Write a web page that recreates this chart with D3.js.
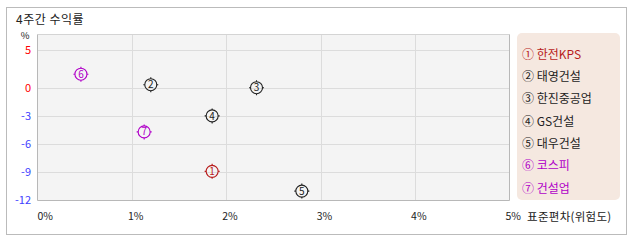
<!DOCTYPE html>
<html>
<head>
<meta charset="utf-8">
<script src="https://cdn.jsdelivr.net/npm/d3@7"></script>
<style>
  body { margin: 0; background: #fff; }
  svg text { font-family: "Noto Sans CJK KR", "Noto Sans", sans-serif; }
</style>
</head>
<body>
<div id="chart"></div>
<script>
// 4주간 수익률 vs 표준편차
var names = ["한전KPS", "태영건설", "한진중공업", "GS건설", "대우건설", "코스피", "건설업"];
var marks = ["①", "②", "③", "④", "⑤", "⑥", "⑦"];
var risk = [1.85, 1.2, 2.32, 1.85, 2.8, 0.46, 1.13];
var returns = [-8.9, 0.4, 0.0, -3.0, -11.0, 1.8, -4.7];
var groups = ["stock", "stock", "stock", "stock", "stock", "index", "index"];
var xTicks = [0, 1, 2, 3, 4, 5];
var yTicks = [5, 0, -3, -6, -9, -12];

var width = 638, height = 242;
var plot = { left: 37.5, right: 509.5, top: 34.5, bottom: 200.5 };

var colorOf = function (d, i) {
  if (i === 0) return "#b81c1c";
  return groups[i] === "index" ? "#b000c8" : "#222";
};

var svg = d3.select("#chart").append("svg")
  .attr("width", width)
  .attr("height", height);

// outer frame
svg.append("rect")
  .attr("x", 6.5).attr("y", 7.5)
  .attr("width", 620).attr("height", 227)
  .attr("fill", "#fff")
  .attr("stroke", "#bbb");

svg.append("text")
  .attr("x", 16).attr("y", 24)
  .attr("font-size", 12)
  .attr("letter-spacing", 0.5)
  .attr("fill", "#222")
  .text("4주간 수익률");

var x = d3.scaleLinear().domain([0, 5]).range([plot.left, plot.right]);
// upper half is stretched differently from lower half in the original
var y = d3.scaleLinear().domain([7.1, 0, -12]).range([plot.top, 87.7, plot.bottom]);

svg.append("rect")
  .attr("x", plot.left).attr("y", plot.top)
  .attr("width", plot.right - plot.left)
  .attr("height", plot.bottom - plot.top)
  .attr("fill", "#f4f4f4");

// gridlines
svg.append("g").selectAll("line")
  .data(xTicks.slice(1, -1))
  .enter().append("line")
  .attr("x1", (d) => Math.round(x(d)) + 0.5)
  .attr("x2", (d) => Math.round(x(d)) + 0.5)
  .attr("y1", plot.top).attr("y2", plot.bottom)
  .attr("stroke", "#dcdcdc");

svg.append("g").selectAll("line")
  .data(yTicks.slice(0, -1))
  .enter().append("line")
  .attr("x1", plot.left).attr("x2", plot.right)
  .attr("y1", (d) => Math.round(y(d)) + 0.5)
  .attr("y2", (d) => Math.round(y(d)) + 0.5)
  .attr("stroke", "#dcdcdc");

svg.append("line")
  .attr("x1", plot.left).attr("x2", plot.right)
  .attr("y1", plot.top).attr("y2", plot.top)
  .attr("stroke", "#d4d4d4");
svg.append("path")
  .attr("d", "M" + plot.left + "," + plot.top + "V" + plot.bottom + "H" + plot.right + "V" + plot.top)
  .attr("fill", "none")
  .attr("stroke", "#b8b8b8");

// y tick labels
svg.append("text")
  .attr("x", 25).attr("y", 39)
  .attr("font-size", 9.5)
  .attr("text-anchor", "middle")
  .attr("fill", "#222")
  .text("%");

svg.append("g").selectAll("text")
  .data(yTicks)
  .enter().append("text")
  .attr("x", 31)
  .attr("y", (d) => y(d))
  .attr("dy", "0.36em")
  .attr("text-anchor", "end")
  .attr("font-size", 11)
  .attr("fill", (d) => (d >= 0 ? "#ff0000" : "#4040ff"))
  .text((d) => d);

// x tick labels
svg.append("g").selectAll("text")
  .data(xTicks)
  .enter().append("text")
  .attr("x", (d) => Math.max(x(d) - 4, plot.left))
  .attr("y", 220)
  .attr("font-size", 10.5)
  .attr("fill", "#222")
  .text((d) => d + "%");

svg.append("text")
  .attr("x", 527).attr("y", 221)
  .attr("font-size", 11.5)
  .attr("letter-spacing", 0.3)
  .attr("fill", "#222")
  .text("표준편차(위험도)");

// markers
var pt = svg.append("g").selectAll("g")
  .data(names)
  .enter().append("g")
  .attr("transform", (d, i) => "translate(" + x(risk[i]) + "," + y(returns[i]) + ")");

pt.append("circle")
  .attr("r", 6)
  .attr("fill", "none")
  .attr("stroke", colorOf)
  .attr("stroke-width", 1.1);

pt.append("path")
  .attr("d", "M0,-6V-7.5M0,6V7.5M-6,0H-7.5M6,0H7.5")
  .attr("stroke", colorOf)
  .attr("stroke-width", 1.1);

pt.append("text")
  .attr("text-anchor", "middle")
  .attr("dy", "0.36em")
  .attr("font-size", 10)
  .attr("fill", colorOf)
  .text((d, i) => i + 1);

// legend
svg.append("rect")
  .attr("x", 517).attr("y", 33)
  .attr("width", 103).attr("height", 167)
  .attr("rx", 5)
  .attr("fill", "#f5e8e0");

svg.append("g").selectAll("text")
  .data(names)
  .enter().append("text")
  .attr("x", 522)
  .attr("y", (d, i) => 54.5 + i * 22.3)
  .attr("dy", "0.36em")
  .attr("font-size", 12)
  .attr("fill", colorOf)
  .text((d, i) => marks[i] + " " + d);
</script>
</body>
</html>
